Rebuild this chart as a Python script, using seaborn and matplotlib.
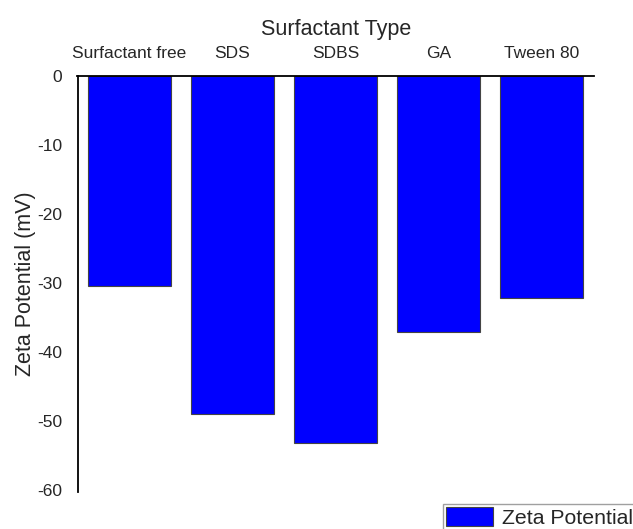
import pandas as pd
import matplotlib.pyplot as plt
import seaborn as sns

# zeta potential per surfactant
surfactants = ["Surfactant free", "SDS", "SDBS", "GA", "Tween 80"]
zeta = [-30.5, -49.0, -53.2, -37.1, -32.2]

df = pd.DataFrame({"Surfactant": surfactants, "Zeta": zeta})

sns.set_style("white")
plt.rcParams["font.family"] = ["Liberation Sans", "DejaVu Sans"]
plt.rcParams["axes.unicode_minus"] = False

fig = plt.figure(figsize=(6.33, 5.29), dpi=100)
ax = fig.add_axes([77.5 / 633, 1 - 492 / 529, (594 - 77.5) / 633, (492 - 76) / 529])

sns.barplot(data=df, x="Surfactant", y="Zeta", color="#0000FF", saturation=1,
            edgecolor="#444444", linewidth=0.8, width=0.8, label="Zeta Potential", ax=ax)

ax.set_xlim(-0.505, 4.51)
ax.set_ylim(-60.3, 0)
ax.set_yticks([0, -10, -20, -30, -40, -50, -60])

# categories on top, no tick marks
ax.xaxis.tick_top()
ax.xaxis.set_label_position("top")
ax.tick_params(axis="x", length=0, pad=11, labelsize=12.5)
ax.tick_params(axis="y", length=0, pad=11, labelsize=12.5)
ax.set_xlabel("Surfactant Type", fontsize=15.5, labelpad=8)
ax.set_ylabel("Zeta Potential (mV)", fontsize=15.5, labelpad=1)

for side in ["right", "bottom"]:
    ax.spines[side].set_visible(False)
for side in ["top", "left"]:
    ax.spines[side].set_color("black")
    ax.spines[side].set_linewidth(1.3)

ax.legend(loc="upper left", bbox_to_anchor=(0.70, 0.047), bbox_transform=fig.transFigure,
          fontsize=15.3, frameon=True, fancybox=False, edgecolor="#888888",
          borderpad=0.15, handlelength=2.2, handleheight=1.0, handletextpad=0.4,
          borderaxespad=0)

fig.savefig("out.png", dpi=100)
